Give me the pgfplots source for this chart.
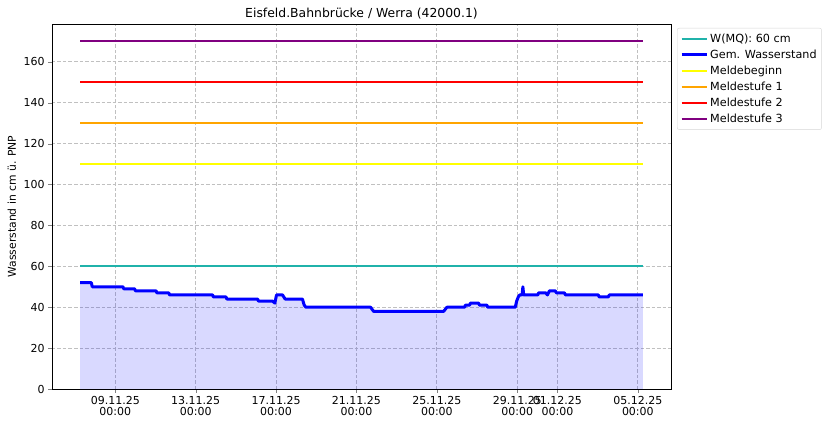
\documentclass[border=0pt]{standalone}
\usepackage{pgfplots}
\pgfplotsset{compat=1.18}
\usepackage{fontspec}
\setmainfont{DejaVu Sans}
\definecolor{mqcol}{RGB}{32,178,170}
\definecolor{mpurple}{RGB}{128,0,128}
\definecolor{morange}{RGB}{255,165,0}
\definecolor{mred}{RGB}{255,0,0}
\definecolor{myellow}{RGB}{255,255,0}
\definecolor{gridc}{RGB}{192,192,192}
\definecolor{legc}{RGB}{214,214,214}
\begin{document}
\fontsize{11bp}{13bp}\selectfont
\begin{tikzpicture}[x=1bp,y=1bp]
\path[use as bounding box] (-52,-37) rectangle (777,389);
\begin{axis}[
  at={(0,0)}, anchor=south west,
  scale only axis, width=619bp, height=365bp,
  xmin=-3.15, xmax=27.65, ymin=0, ymax=178.5,
  xtick={0,4,8,12,16,20,22,26},
  xticklabels={09.11.25\\00:00,13.11.25\\00:00,17.11.25\\00:00,21.11.25\\00:00,25.11.25\\00:00,29.11.25\\00:00,01.12.25\\00:00,05.12.25\\00:00},
  xticklabel style={align=center, font=\fontsize{11bp}{10.5bp}\selectfont},
  ytick={0,20,...,160},
  /pgf/number format/assume math mode=true,
  ticklabel style={font=\fontsize{11bp}{10.5bp}\selectfont},
  tick align=outside, xtick pos=bottom, ytick pos=left,
  major tick length=3.5bp,
  grid=major,
  major grid style={gridc, dash pattern=on 3.5bp off 2bp, line width=0.8bp},
  axis line style={line width=0.8bp},
  ylabel={Wasserstand in cm ü. PNP},
  ylabel style={font=\fontsize{10.8bp}{12bp}\selectfont},
  title={Eisfeld.Bahnbrücke / Werra (42000.1)},
  title style={font=\fontsize{12.4bp}{13bp}\selectfont, yshift=-4.5bp},
  legend cell align=left,
  legend style={at={(1,1)}, anchor=north west, xshift=6bp, yshift=-4bp,
    draw=legc, rounded corners=2bp, font=\fontsize{11.2bp}{12bp}\selectfont,
    row sep=1.9bp, inner xsep=3bp, inner ysep=3.5bp},
  legend image code/.code={\draw[#1] (0bp,0bp) -- (25bp,0bp);},
]
\addplot[fill=blue, fill opacity=0.15, draw=none, forget plot] coordinates {
(-1.75,52) (-1.19,52) (-1.15,50) (0.38,50) (0.42,49) (0.96,49) (1.0,48) (2.03,48) (2.07,47) (2.66,47) (2.70,46) (4.84,46) (4.88,45) (5.51,45) (5.55,44) (7.08,44) (7.12,43) (7.82,43) (7.94,42) (8.02,46) (8.32,46) (8.45,44) (9.31,44) (9.40,41) (9.48,40) (12.70,40) (12.85,38) (16.34,38) (16.50,40) (17.38,40) (17.42,41) (17.63,41) (17.67,42) (18.08,42) (18.12,41) (18.49,41) (18.53,40) (19.90,40) (19.97,43) (20.05,45) (20.12,46) (20.24,46) (20.28,50) (20.32,46) (21.02,46) (21.06,47) (21.42,47) (21.50,46) (21.60,48) (21.89,48) (21.95,47) (22.35,47) (22.40,46) (24.03,46) (24.08,45) (24.53,45) (24.58,46) (26.25,46)
} \closedcycle;
\addplot[color=mqcol, line width=2bp] coordinates {(-1.75,60) (26.25,60)};
\addlegendentry{W(MQ): 60 cm}
\addplot[color=blue, line width=3bp, line join=round] coordinates {
(-1.75,52) (-1.19,52) (-1.15,50) (0.38,50) (0.42,49) (0.96,49) (1.0,48) (2.03,48) (2.07,47) (2.66,47) (2.70,46) (4.84,46) (4.88,45) (5.51,45) (5.55,44) (7.08,44) (7.12,43) (7.82,43) (7.94,42) (8.02,46) (8.32,46) (8.45,44) (9.31,44) (9.40,41) (9.48,40) (12.70,40) (12.85,38) (16.34,38) (16.50,40) (17.38,40) (17.42,41) (17.63,41) (17.67,42) (18.08,42) (18.12,41) (18.49,41) (18.53,40) (19.90,40) (19.97,43) (20.05,45) (20.12,46) (20.24,46) (20.28,50) (20.32,46) (21.02,46) (21.06,47) (21.42,47) (21.50,46) (21.60,48) (21.89,48) (21.95,47) (22.35,47) (22.40,46) (24.03,46) (24.08,45) (24.53,45) (24.58,46) (26.25,46)
};
\addlegendentry{Gem. Wasserstand}
\addplot[color=myellow, line width=2bp] coordinates {(-1.75,110) (26.25,110)};
\addlegendentry{Meldebeginn}
\addplot[color=morange, line width=2bp] coordinates {(-1.75,130) (26.25,130)};
\addlegendentry{Meldestufe 1}
\addplot[color=mred, line width=2bp] coordinates {(-1.75,150) (26.25,150)};
\addlegendentry{Meldestufe 2}
\addplot[color=mpurple, line width=2bp] coordinates {(-1.75,170) (26.25,170)};
\addlegendentry{Meldestufe 3}
\node[anchor=south west, draw=legc, rounded corners=2bp, align=left, inner sep=3bp,
  font=\fontsize{11bp}{12.3bp}\selectfont, xshift=10bp, yshift=38bp]
  at (rel axis cs:1,0) {Erstellt am:\\05.12.2025 06:19 (MEZ)\\(c) TLUBN};
\end{axis}
\end{tikzpicture}
\end{document}
